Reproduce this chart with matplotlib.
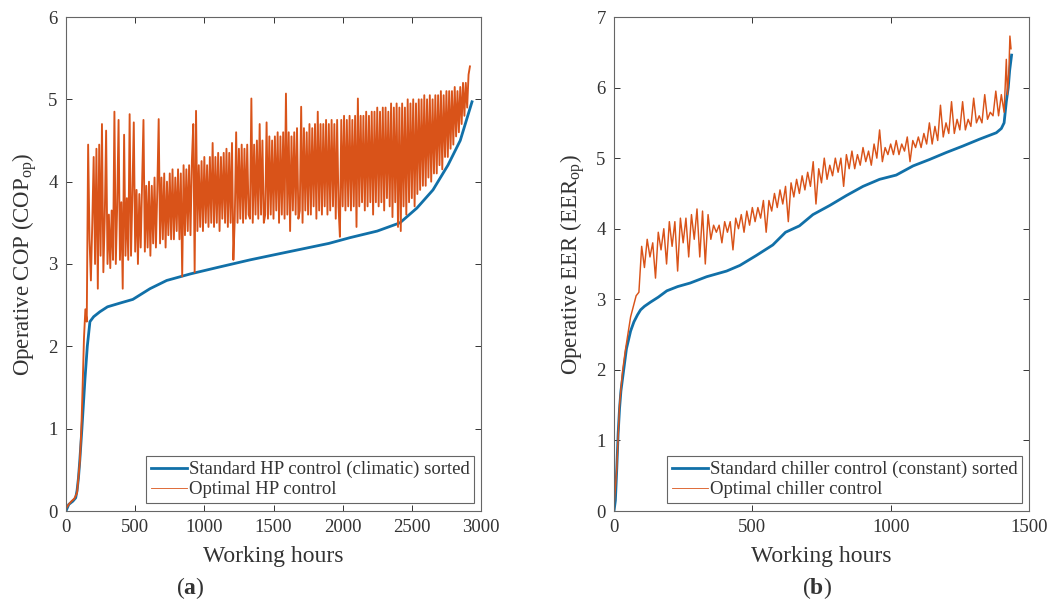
import matplotlib.pyplot as plt
import numpy as np

plt.rcParams.update({
    'font.family': 'serif',
    'font.serif': ['Liberation Serif', 'DejaVu Serif'],
    'mathtext.fontset': 'custom',
    'mathtext.rm': 'Liberation Serif',
    'mathtext.it': 'Liberation Serif:italic',
    'mathtext.bf': 'Liberation Serif:bold',
    'text.color': '#333333',
    'axes.labelcolor': '#333333',
    'xtick.color': '#333333',
    'ytick.color': '#333333',
})

BLUE = '#1170a8'
ORANGE = '#d95319'

# ---- (a) heat pump, COP ----
hp_std_hours = [0, 20, 50, 70, 80, 90, 100, 115, 137, 154, 173, 200, 245, 300, 400, 483,
                607, 728, 900, 1100, 1330, 1500, 1700, 1900, 2053, 2250, 2414, 2537,
                2653, 2761, 2850, 2935]
hp_std_cop = [0, 0.08, 0.12, 0.16, 0.25, 0.4, 0.62, 1.0, 1.6, 2.0, 2.3, 2.36, 2.42, 2.48,
              2.53, 2.57, 2.7, 2.8, 2.88, 2.96, 3.05, 3.11, 3.18, 3.25, 3.32, 3.4, 3.5,
              3.68, 3.9, 4.2, 4.5, 4.97]

# optimal control: start-up part, then one value every 10 h from 170 h
hp_opt_start_hours = [0, 20, 40, 60, 80, 100, 110, 120, 130, 140, 150, 160]
hp_opt_start_cop = [0.03, 0.08, 0.12, 0.15, 0.22, 0.6, 0.95, 1.5, 2.1, 2.45, 2.3, 4.45]
hp_opt_cop = [
    3.3, 2.8, 3.5, 4.3, 3.0, 4.4, 2.7, 4.45, 3.1, 4.7,
    2.9, 3.55, 4.62, 3.0, 3.6, 2.95, 3.65, 3.05, 4.85, 3.0,
    3.7, 4.75, 3.05, 3.75, 2.7, 4.57, 3.1, 3.8, 3.05, 4.82,
    3.1, 3.85, 4.72, 3.15, 3.9, 3.0, 3.85, 3.2, 3.95, 4.75,
    3.15, 3.95, 3.2, 4.0, 3.1, 3.95, 3.25, 4.05, 3.2, 3.9,
    4.76, 3.25, 4.05, 3.3, 4.1, 3.2, 4.0, 3.35, 4.1, 3.3,
    4.15, 3.3, 4.05, 3.4, 4.15, 3.3, 4.1, 2.85, 4.2, 3.35,
    4.15, 3.4, 4.2, 3.35, 4.25, 4.7, 2.9, 4.86, 3.4, 4.2,
    3.45, 4.25, 3.4, 4.3, 3.5, 4.2, 3.45, 4.3, 3.5, 4.47,
    3.45, 4.3, 3.5, 4.35, 3.4, 4.3, 3.55, 4.35, 3.5, 4.4,
    3.45, 4.35, 3.5, 4.47, 3.05, 3.55, 4.6, 3.5, 4.4, 3.55,
    4.45, 3.5, 4.4, 3.55, 4.45, 3.6, 3.55, 5.01, 3.5, 4.45,
    3.6, 4.5, 3.55, 4.7, 3.6, 4.5, 3.5, 3.6, 4.72, 3.55,
    4.55, 3.6, 4.5, 3.55, 4.55, 3.65, 4.6, 3.5, 4.55, 3.6,
    4.6, 3.55, 5.07, 3.6, 4.6, 3.4, 4.55, 3.65, 4.6, 3.6,
    4.65, 3.55, 3.65, 4.91, 3.5, 4.65, 3.65, 4.6, 3.6, 4.7,
    3.6, 4.65, 3.7, 4.7, 3.55, 4.85, 3.65, 4.7, 3.6, 4.7,
    3.7, 4.75, 3.6, 4.7, 3.65, 4.75, 3.7, 4.7, 3.55, 4.75,
    3.7, 3.33, 4.75, 3.7, 4.8, 3.65, 4.75, 3.7, 4.8, 3.65,
    4.75, 3.7, 4.8, 3.45, 5.01, 3.7, 4.8, 3.75, 4.8, 3.65,
    4.85, 3.7, 4.8, 3.75, 4.85, 3.6, 4.85, 3.75, 4.9, 3.7,
    4.85, 3.75, 4.9, 3.65, 4.9, 3.8, 4.85, 3.7, 4.95, 3.57,
    4.9, 3.75, 4.95, 3.45, 4.9, 3.4, 4.95, 3.7, 4.9, 3.6,
    5.0, 3.75, 4.95, 3.8, 5.0, 3.7, 4.95, 3.85, 5.0, 3.9,
    5.0, 3.95, 5.05, 3.95, 5.0, 4.05, 5.05, 4.0, 5.0, 4.1,
    5.05, 4.1, 5.05, 4.2, 5.1, 4.15, 5.05, 4.3, 5.1, 4.3,
    5.1, 4.4, 5.1, 4.45, 5.15, 4.55, 5.1, 4.6, 5.15, 4.7,
    5.2, 4.8, 5.2, 4.9, 5.3, 5.4,
]

# ---- (b) chiller, EER ----
ch_std_hours = [0, 5, 10, 15, 20, 25, 35, 45, 60, 72, 85, 96, 110, 132, 160, 191, 230,
                275, 335, 407, 455, 514, 574, 620, 670, 719, 780, 840, 900, 960, 1020,
                1081, 1140, 1201, 1260, 1322, 1382, 1400, 1410, 1418, 1425, 1430, 1437]
ch_std_eer = [0, 0.15, 0.6, 1.1, 1.45, 1.7, 2.0, 2.3, 2.55, 2.68, 2.78, 2.85, 2.9, 2.96,
              3.03, 3.12, 3.18, 3.23, 3.32, 3.4, 3.48, 3.62, 3.77, 3.95, 4.04, 4.2, 4.33,
              4.47, 4.6, 4.7, 4.76, 4.89, 4.98, 5.08, 5.17, 5.27, 5.36, 5.42, 5.5, 5.8,
              6.0, 6.24, 6.46]

# optimal control: one value every 10 h from 0 h, then the last few hours
ch_opt_eer = [
    0.05, 0.6, 1.5, 1.95, 2.25, 2.5, 2.75, 2.9, 3.05, 3.1,
    3.75, 3.45, 3.85, 3.6, 3.8, 3.3, 3.95, 3.7, 4.0, 3.5,
    4.1, 3.75, 4.1, 3.4, 4.15, 3.8, 4.15, 3.6, 4.2, 3.85,
    4.28, 3.6, 4.25, 3.5, 4.2, 3.85, 4.05, 3.95, 4.05, 3.8,
    4.1, 3.95, 4.1, 3.7, 4.15, 4.0, 4.2, 3.95, 4.25, 4.05,
    4.3, 4.1, 4.3, 4.15, 4.4, 3.95, 4.4, 4.25, 4.5, 4.3,
    4.55, 4.35, 4.6, 4.1, 4.65, 4.45, 4.7, 4.5, 4.75, 4.55,
    4.8, 4.6, 4.95, 4.35, 4.85, 4.65, 5.0, 4.7, 4.9, 4.75,
    5.0, 4.8, 5.0, 4.6, 5.05, 4.85, 5.1, 4.85, 5.05, 4.9,
    5.15, 4.95, 5.1, 4.9, 5.2, 5.0, 5.4, 4.95, 5.15, 5.05,
    5.2, 5.05, 5.25, 5.05, 5.2, 5.1, 5.3, 4.95, 5.25, 5.15,
    5.3, 5.15, 5.35, 5.2, 5.5, 5.2, 5.45, 5.25, 5.75, 5.3,
    5.5, 5.35, 5.8, 5.35, 5.55, 5.4, 5.8, 5.4, 5.55, 5.45,
    5.85, 5.5, 5.6, 5.5, 5.9, 5.55, 5.65, 5.6, 5.95, 5.6,
    5.9, 5.65,
]
ch_opt_end_hours = [1418, 1422, 1427, 1431, 1435]
ch_opt_end_eer = [6.4, 5.9, 6.2, 6.73, 6.55]

hp_opt_hours = hp_opt_start_hours + list(np.arange(170, 170 + 10 * len(hp_opt_cop), 10))
hp_opt_all = hp_opt_start_cop + hp_opt_cop
ch_opt_hours = list(np.arange(0, 10 * len(ch_opt_eer), 10)) + ch_opt_end_hours
ch_opt_all = ch_opt_eer + ch_opt_end_eer


def style_axes(ax):
    for s in ax.spines.values():
        s.set_color('#666666')
        s.set_linewidth(0.8)
    ax.tick_params(direction='in', length=4, width=0.7, top=True, right=True,
                   labelsize=13.5, pad=6, colors='#333333')


fig = plt.figure(figsize=(10.51, 6.11), dpi=100)
ax1 = fig.add_axes([66 / 1051, 100 / 611, 415 / 1051, 494 / 611])
ax2 = fig.add_axes([614 / 1051, 100 / 611, 415 / 1051, 494 / 611])

ax1.plot(hp_std_hours, hp_std_cop, color=BLUE, lw=2.0,
         label='Standard HP control (climatic) sorted')
ax1.plot(hp_opt_hours, hp_opt_all, color=ORANGE, lw=1.35,
         label='Optimal HP control')
ax1.set_xlim(0, 3000)
ax1.set_ylim(0, 6)
ax1.set_xticks(np.arange(0, 3001, 500))
ax1.set_yticks(np.arange(0, 7, 1))
ax1.set_xlabel('Working hours', fontsize=17, va='center')
ax1.set_ylabel(r'Operative COP (COP$_{\mathrm{op}}$)', fontsize=16.5, va='center')
ax1.xaxis.set_label_coords(0.5, -0.093)
ax1.yaxis.set_label_coords(-0.099, 0.5)
style_axes(ax1)

ax2.plot(ch_std_hours, ch_std_eer, color=BLUE, lw=2.0,
         label='Standard chiller control (constant) sorted')
ax2.plot(ch_opt_hours, ch_opt_all, color=ORANGE, lw=1.05,
         label='Optimal chiller control')
ax2.set_xlim(0, 1500)
ax2.set_ylim(0, 7)
ax2.set_xticks([0, 500, 1000, 1500])
ax2.set_yticks(np.arange(0, 8, 1))
ax2.set_xlabel('Working hours', fontsize=17, va='center')
ax2.set_ylabel(r'Operative EER (EER$_{\mathrm{op}}$)', fontsize=16.5, va='center')
ax2.xaxis.set_label_coords(0.5, -0.093)
ax2.yaxis.set_label_coords(-0.099, 0.5)
style_axes(ax2)

for ax in (ax1, ax2):
    leg = ax.legend(loc='lower right', bbox_to_anchor=(0.983, 0.016), borderaxespad=0,
                    fontsize=13.5, fancybox=False, framealpha=1, edgecolor='#666666',
                    handlelength=1.9, handletextpad=0.1, labelspacing=0.15,
                    borderpad=0.25)
    leg.get_frame().set_linewidth(0.8)
    leg.get_lines()[1].set_linewidth(0.6)

fig.text(190 / 1051, 1 - 588 / 611, r'($\mathbf{a}$)', fontsize=17, ha='center', va='center')
fig.text(817 / 1051, 1 - 588 / 611, r'($\mathbf{b}$)', fontsize=17, ha='center', va='center')

fig.savefig('out.png', dpi=100)
